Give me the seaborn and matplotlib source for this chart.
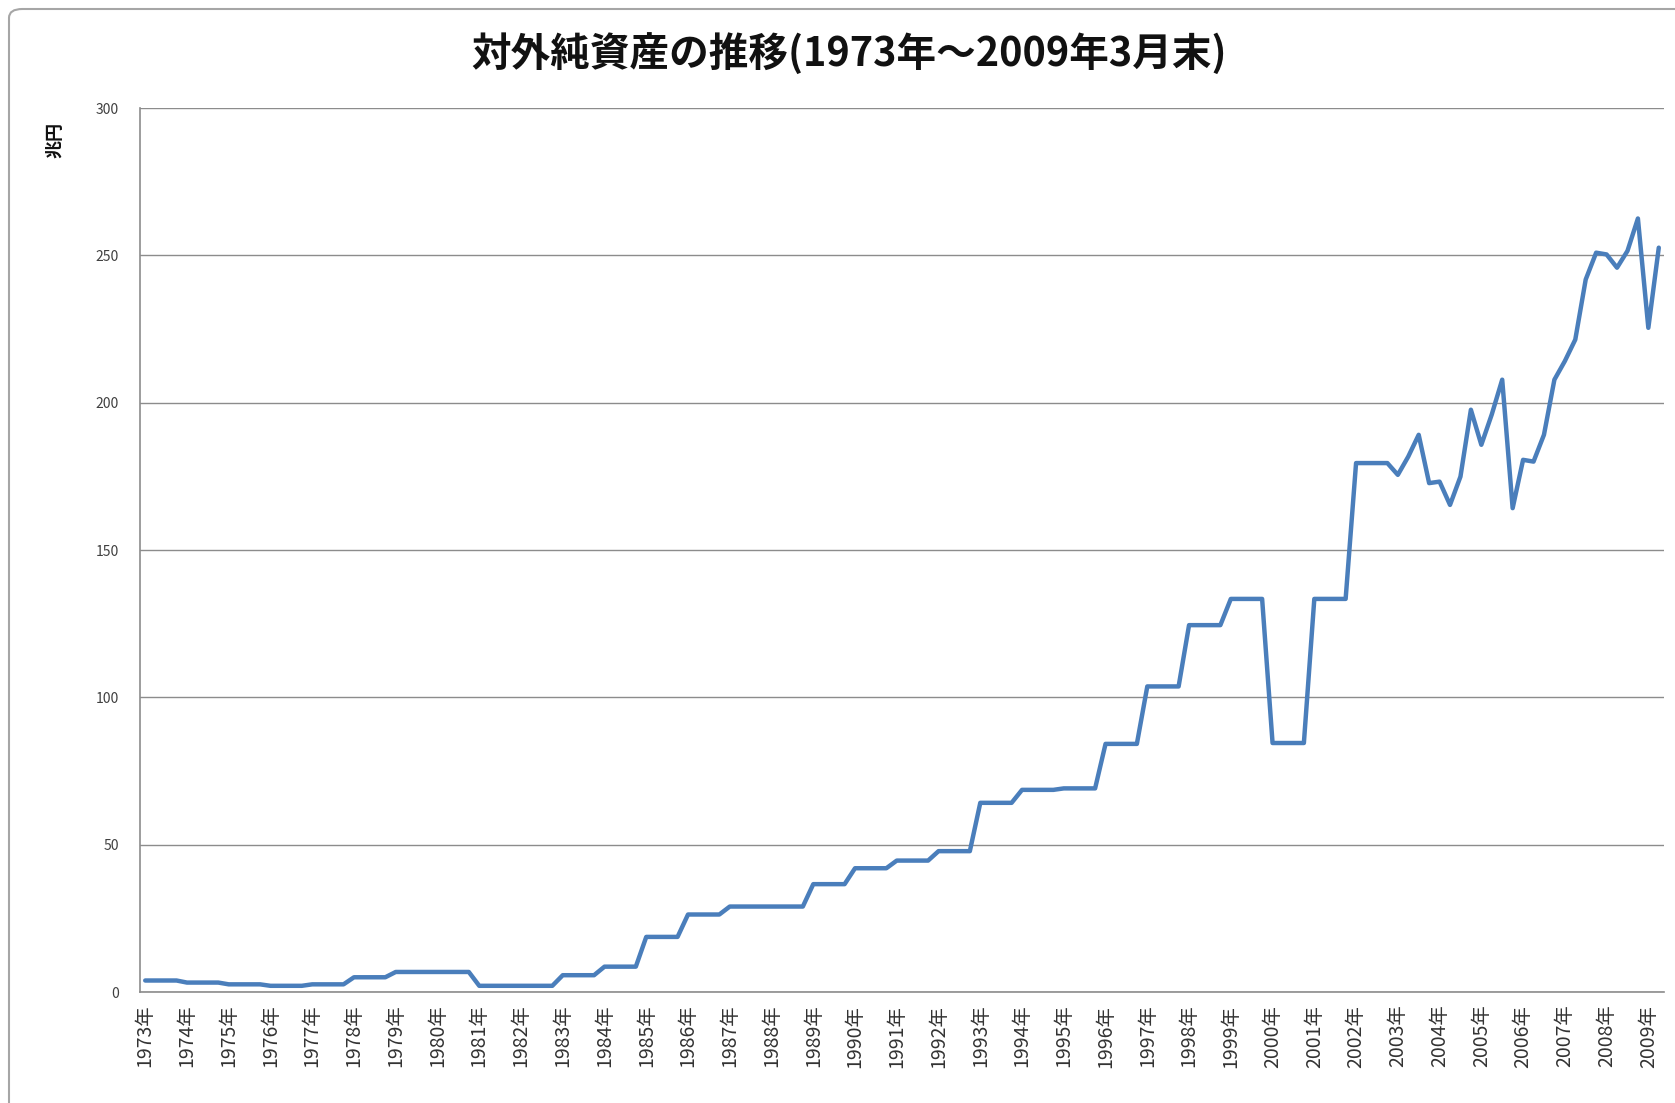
import matplotlib
matplotlib.use("Agg")
import matplotlib.pyplot as plt
from matplotlib.patches import FancyBboxPatch
from matplotlib.ticker import FixedLocator, NullFormatter
import numpy as np
import pandas as pd
import seaborn as sns

# Year labels shown on the category axis (one label every four quarters)
years = list(range(1973, 2010))
year_labels = [f"{y}年" for y in years]

# Net external assets, 兆円, four quarterly points per year (1973 Q1 onward)
net_assets = [
    3.9, 3.9, 3.9, 3.9,          # 1973
    3.2, 3.2, 3.2, 3.2,          # 1974
    2.6, 2.6, 2.6, 2.6,          # 1975
    2.1, 2.1, 2.1, 2.1,          # 1976
    2.6, 2.6, 2.6, 2.6,          # 1977
    5.0, 5.0, 5.0, 5.0,          # 1978
    6.8, 6.8, 6.8, 6.8,          # 1979
    6.8, 6.8, 6.8, 6.8,          # 1980
    2.1, 2.1, 2.1, 2.1,          # 1981
    2.1, 2.1, 2.1, 2.1,          # 1982
    5.7, 5.7, 5.7, 5.7,          # 1983
    8.6, 8.6, 8.6, 8.6,          # 1984
    18.7, 18.7, 18.7, 18.7,      # 1985
    26.3, 26.3, 26.3, 26.3,      # 1986
    29.0, 29.0, 29.0, 29.0,      # 1987
    29.0, 29.0, 29.0, 29.0,      # 1988
    36.6, 36.6, 36.6, 36.6,      # 1989
    42.0, 42.0, 42.0, 42.0,      # 1990
    44.6, 44.6, 44.6, 44.6,      # 1991
    47.8, 47.8, 47.8, 47.8,      # 1992
    64.2, 64.2, 64.2, 64.2,      # 1993
    68.6, 68.6, 68.6, 68.6,      # 1994
    69.1, 69.1, 69.1, 69.1,      # 1995
    84.2, 84.2, 84.2, 84.2,      # 1996
    103.7, 103.7, 103.7, 103.7,  # 1997
    124.5, 124.5, 124.5, 124.5,  # 1998
    133.4, 133.4, 133.4, 133.4,  # 1999
    84.5, 84.5, 84.5, 84.5,      # 2000
    133.4, 133.4, 133.4, 133.4,  # 2001
    179.5, 179.5, 179.5, 179.5,  # 2002
    175.5, 181.7, 189.1, 172.7,  # 2003
    173.2, 165.3, 174.9, 197.6,  # 2004
    185.7, 196.0, 207.8, 164.2,  # 2005
    180.6, 180.0, 189.1, 207.8,  # 2006
    214.1, 221.4, 241.8, 250.9,  # 2007
    250.3, 245.8, 251.5, 262.5,  # 2008
    225.4, 252.6,                # 2009
]

title_text = "対外純資産の推移(1973年～2009年3月末)"
unit_text = "兆円"
y_ticks = [0, 50, 100, 150, 200, 250, 300]

sns.set_style("white")
plt.rcParams["font.family"] = ["Noto Sans CJK JP", "DejaVu Sans"]

df = pd.DataFrame({"quarter": np.arange(len(net_assets)), "value": net_assets})

W, H = 1675, 1103
fig = plt.figure(figsize=(W / 100, H / 100), dpi=100)
fig.patch.set_facecolor("white")

left, right, top, bottom = 140 / W, 1664 / W, 1 - 108 / H, 1 - 992 / H
ax = fig.add_axes([left, bottom, right - left, top - bottom])

sns.lineplot(data=df, x="quarter", y="value", ax=ax, color="#4A7EBB",
             linewidth=3.2, legend=False)

grid_color = "#8c8c8c"
n = len(net_assets)
ax.set_xlim(-0.5, n - 0.5)
ax.set_ylim(y_ticks[0], y_ticks[-1])
ax.set_yticks(y_ticks)
ax.yaxis.grid(True, color=grid_color, linewidth=1.0)
ax.xaxis.grid(False)
ax.set_axisbelow(True)

label_pos = np.arange(0, 4 * len(years), 4)
ax.xaxis.set_major_locator(FixedLocator(label_pos))
ax.set_xticklabels(year_labels, rotation=90, fontsize=14, color="#333333")
ax.xaxis.set_minor_locator(FixedLocator(np.arange(-0.5, n, 1.0)))
ax.xaxis.set_minor_formatter(NullFormatter())
ax.tick_params(axis="x", which="major", length=0, pad=9)
ax.tick_params(axis="x", which="minor", length=5, width=1.0, color=grid_color,
               direction="out")
ax.tick_params(axis="y", which="major", length=5, width=1.0, color=grid_color,
               direction="out", pad=10, labelsize=10, labelcolor="#404040")

for side in ("top", "right"):
    ax.spines[side].set_visible(False)
for side in ("left", "bottom"):
    ax.spines[side].set_color(grid_color)
    ax.spines[side].set_linewidth(1.2)

ax.set_xlabel("")
ax.set_ylabel("")

fig.text(849 / W, 1 - 55 / H, title_text, ha="center", va="center",
         fontsize=28.5, fontweight="bold", color="#111111")
fig.text(55 / W, 1 - 140 / H, unit_text, rotation=90, ha="center", va="center",
         fontsize=13, fontweight="bold", color="#111111")

frame = FancyBboxPatch((9 / W, -0.05), 1.1, 1 - 9 / H + 0.05,
                       boxstyle="round,pad=0,rounding_size=0.008",
                       transform=fig.transFigure, fill=False,
                       edgecolor="#a6a6a6", linewidth=1.5, clip_on=False)
fig.patches.append(frame)

fig.savefig("out.png", dpi=100, facecolor="white")
